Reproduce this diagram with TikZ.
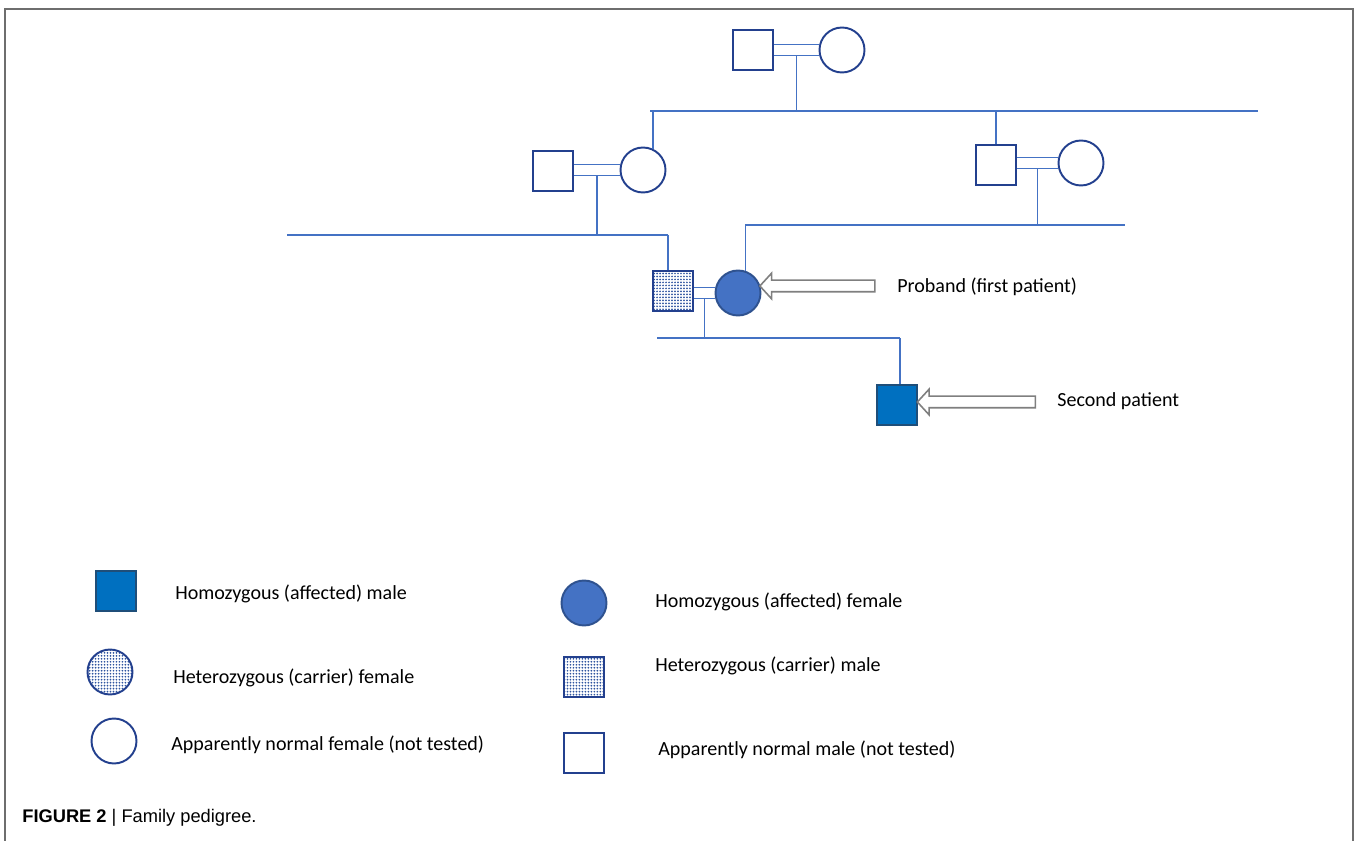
\documentclass[tikz,border=0pt]{standalone}
\usepackage{fontspec}
\setmainfont{Carlito}
\newfontfamily\capfont{Liberation Sans}
\usetikzlibrary{shapes.arrows, patterns.meta, positioning, calc}

\definecolor{pedline}{HTML}{4472C4}
\definecolor{symblue}{HTML}{23408E}
\definecolor{dotblue}{HTML}{2F55A0}
\definecolor{afffem}{HTML}{4472C4}
\definecolor{afffemline}{HTML}{2F528F}
\definecolor{affmale}{HTML}{0070C0}
\definecolor{affmaleline}{HTML}{1F4E79}
\definecolor{arrgray}{HTML}{7F7F7F}
\definecolor{framegray}{HTML}{6E6E6E}

\begin{document}
\begin{tikzpicture}[
        x=0.02cm, y=-0.02cm,
        male/.style={draw=symblue, line width=1.1pt, minimum size=0.8cm, inner sep=0pt, fill=white},
        female/.style={circle, draw=symblue, line width=1.1pt, minimum size=0.9cm, inner sep=0pt, fill=white},
        carrier/.style={pattern={Dots[distance=1.7pt, radius=0.55pt]}, pattern color=dotblue},
        afff/.style={fill=afffem, draw=afffemline},
        affm/.style={fill=affmale, draw=affmaleline},
        line/.style={draw=pedline, line width=0.75pt},
        hollow/.style={single arrow, draw=arrgray, line width=0.9pt, fill=white, inner xsep=0pt,
            inner ysep=0.1cm, single arrow head extend=0.14cm, single arrow tip angle=95,
            shape border rotate=180},
        lbl/.style={anchor=west, inner sep=0pt, font=\fontsize{11.4}{13}\selectfont},
        frame/.style={draw=framegray, line width=1.1pt}
    ]
        \useasboundingbox (0,0) rectangle (1357,841);
        \draw[frame] (5,841) -- (5,9) -- (1353,9) -- (1353,841);

        % Nodes
        \node[male] (gf) at (753,50) {};
        \node[female] (gm) at (842,50) {};
        \node[male] (m2) at (553,171) {};
        \node[female] (f2) at (643,170) {};
        \node[male] (m3) at (996,165) {};
        \node[female] (f3) at (1081,163) {};
        \node[male, carrier] (cm) at (673,291) {};
        \node[female, afff] (pb) at (738,293) {};
        \node[male, affm] (sp) at (897,405) {};

        % Sibship lines
        \coordinate (s1a) at (650,111); \coordinate (s1b) at (1258,111);
        \coordinate (s2a) at (287,235); \coordinate (s2b) at (668,235);
        \coordinate (s3a) at (745,225); \coordinate (s3b) at (1125,225);
        \coordinate (s4a) at (657,338); \coordinate (s4b) at (900,338);
        \draw[line] (s1a) -- (s1b);
        \draw[line] (s2a) -- (s2b);
        \draw[line] (s3a) -- (s3b);
        \draw[line] (s4a) -- (s4b);

        % Couples
        \foreach \m/\f in {gf/gm, m2/f2, m3/f3, cm/pb} {
            \draw[line] (\m.east |- \f.167) -- (\f.167);
            \draw[line] (\m.east |- \f.193) -- (\f.193);
            \coordinate (d-\m) at ($(\m.east |- \f.193)!0.5!(\f.193)$);
        }
        \draw[line] (d-gf) -- (d-gf |- s1a);
        \draw[line] (d-m2) -- (d-m2 |- s2a);
        \draw[line] (d-m3) -- (d-m3 |- s3a);
        \draw[line] (d-cm) -- (d-cm |- s4a);

        % Children
        \draw[line] (f2.65) -- (f2.65 |- s1a);
        \draw[line] (m3.north) -- (m3.north |- s1a);
        \draw[line] (s2b) -- (s2b |- cm.north);
        \draw[line] (pb.72) -- (pb.72 |- s3a);
        \draw[line] (s4b) -- (s4b |- sp.north);

        % Patients
        \node[hollow, minimum height=2.3cm] (a1) at (820,286) {};
        \node[lbl] (t1) at (897,287) {Proband (first patient)};
        \node[hollow, minimum height=2.36cm] (a2) at (979,402) {};
        \node[lbl] (t2) at (1057,401) {Second patient};

        % Legend
        \node[male, affm] (k1) at (116,591) {};
        \node[lbl] (k1t) at (175,594) {Homozygous (affected) male};
        \node[female, carrier] (k2) at (110,672) {};
        \node[lbl] (k2t) at (173,678) {Heterozygous (carrier) female};
        \node[female] (k3) at (114,741) {};
        \node[lbl] (k3t) at (171,745) {Apparently normal female (not tested)};
        \node[female, afff] (k4) at (584,603) {};
        \node[lbl] (k4t) at (655,602) {Homozygous (affected) female};
        \node[male, carrier] (k5) at (584,677) {};
        \node[lbl] (k5t) at (655,666) {Heterozygous (carrier) male};
        \node[male] (k6) at (584,753) {};
        \node[lbl] (k6t) at (658,750) {Apparently normal male (not tested)};

        % Caption
        \node[anchor=west, inner sep=0pt, font=\capfont\fontsize{10.4}{12}\selectfont] (cap) at (22,818)
            {{\bfseries FIGURE 2} | Family pedigree.};
    \end{tikzpicture}
\end{document}
